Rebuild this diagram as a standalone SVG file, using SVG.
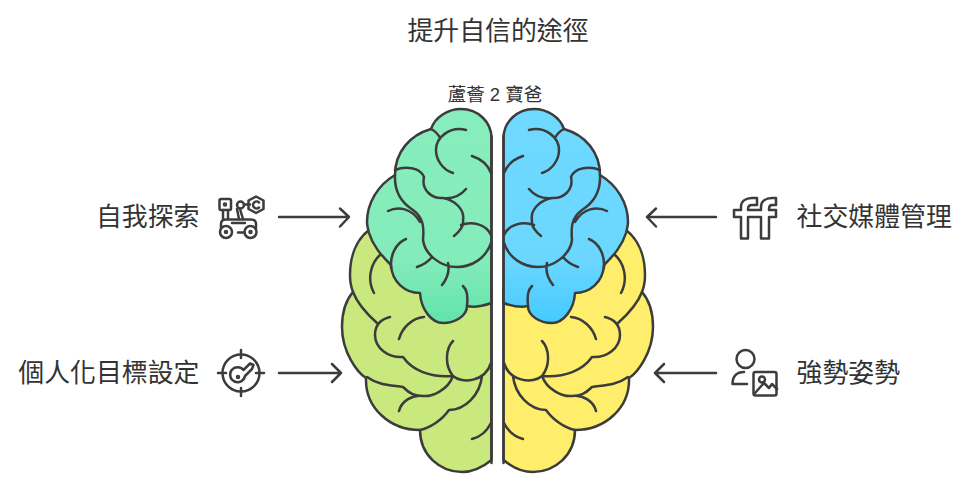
<svg xmlns="http://www.w3.org/2000/svg" xmlns:xlink="http://www.w3.org/1999/xlink" width="980" height="489" viewBox="0 0 980 489">
<style>
text{font-family:"Liberation Sans","Noto Sans CJK TC",sans-serif;fill:#333;font-size:25.900px}
.c{text-anchor:middle}.e{text-anchor:end}
.l,.i,.i *{fill:none;stroke:#3c3c3c;stroke-width:2.5;stroke-linecap:round;stroke-linejoin:round}
.o{stroke:#3c3c3c;stroke-width:2.5;stroke-linejoin:round}
</style>
<defs>
<linearGradient id="gg" x1="0" y1="0" x2="0" y2="1"><stop offset="0" stop-color="#87EDBC"/><stop offset=".7" stop-color="#84ECBA"/><stop offset="1" stop-color="#62E3AC"/></linearGradient>
<linearGradient id="gb" x1="0" y1="0" x2="0" y2="1"><stop offset="0" stop-color="#6FD9FF"/><stop offset=".7" stop-color="#6BD7FF"/><stop offset="1" stop-color="#45CAFF"/></linearGradient>
<path id="low" d="M369,230C356,240 350,257 350,275C350,281 351,287 353,292C346,300 342,313 342,327C342,353 358,373 366,378C365,408 390,430 420,430C420,455 440,472 462,472C473,472 483,467 491.5,460V290L400,230Z"/>
<path id="up" d="M491.5,303C483,306 475,308 467,306C467,316 455,323 443,323C432,323 421,310 420,293C405,293 392,282 391,265C381,255 373,246 369,233C368,229 367,226 367,222C367,203 378,185 395,175C395,152 410,135 431,129C435,117 448,109 461,109C478,109 491.5,122 491.5,138Z"/>
<path id="lowl" d="M380,255C372,262 366,278 374,293M353,292C358,305 368,315 377,323M390,317C378,320 375,327 375,335C375,348 388,358 403,357C412,370 430,378 453,376M424,317C412,318 402,328 399,339M453,341C446,348 444,365 453,376C462,384 485,382 491,363M453,376C448,390 432,397 423,396C415,396 410,394 403,387C390,385 378,385 367,377M423,396C412,394 401,402 399,411M482,376C480,395 465,410 449,410C442,420 430,428 420,430M472,439C480,437 487,431 491,423"/>
<path id="upl" d="M466,130C450,126 436,137 436,150C436,160 443,170 453,173M431,129C435,131 438,134 440,138M472,156C481,159 488,165 491,173M395,170C405,166 420,167 424,177C421,190 432,199 443,198C453,199 461,195 466,189M443,198C455,200 465,210 463,220C464,226 459,232 454,236M461,225C472,221 486,224 491,235M395,175C394,195 405,205 413,210C424,218 424,228 423,240C425,255 441,267 457,267C472,267 486,258 491,243M388,211C398,206 412,208 420,222M406,239C396,243 390,255 391,268M417,267C423,265 428,262 432,257M448,263C450,272 446,280 442,285M463,286C467,290 468,295 467,306"/>
</defs>
<text class="c" x="498" y="40">提升自信的途徑</text>
<text class="c" x="495" y="101" style="font-size:18.500px">蘆薈 2 寶爸</text>
<g id="brain-left">
<use href="#low" fill="#C9E97F" class="o"/><use href="#lowl" class="l"/>
<use href="#up" fill="url(#gg)" class="o"/><use href="#upl" class="l"/>
<path class="l" d="M491.5,136V463"/>
</g>
<g id="brain-right" transform="matrix(-1 0 0 1 995 0)">
<use href="#low" fill="#FFEE6B" class="o"/><use href="#lowl" class="l"/>
<use href="#up" fill="url(#gb)" class="o"/><use href="#upl" class="l"/>
<path class="l" d="M491.5,136V463"/>
</g>
<g id="connectors">
<path class="l" d="M279,217H348M340,208.500L349,217L340,226.500"/>
<path class="l" d="M279,373H341M332,364L341,373L332,382"/>
<path class="l" d="M716,217H647M656,208.500L647,217L656,226.500"/>
<path class="l" d="M716,373H655M664,364L655,373L664,382"/>
</g>
<g id="n1"><text class="e" x="199.500" y="226">自我探索</text>
<g class="i"><rect x="219.500" y="199" width="11.500" height="11" rx="1.500"/><circle cx="225" cy="204.500" r="1"/><path d="M223,210V219M228,210V219M240,209L243,219M237,209L239,219M244,204.500H250"/><circle cx="240.500" cy="205" r="3.500"/><path d="M256,196.500L263.500,200.500V209L256,213L248.500,209V200.500Z"/><path d="M259,202.500A3.500,3.500 0 1 0 259,207.500"/><path d="M221,228V224Q221,219.500 226,219.500H251Q256,219.500 256,224V228M232,223H245M238,232.500H243"/><circle cx="226" cy="232" r="6"/><circle cx="250.500" cy="232" r="6"/><circle cx="226" cy="232" r="1"/><circle cx="250.500" cy="232" r="1"/></g></g>
<g id="n2"><text class="e" x="199.500" y="382">個人化目標設定</text>
<g class="i"><circle cx="241" cy="373" r="18.500"/><path d="M241,350V358M241,388V396M218,373H226M256,373H264"/><path d="M243.500,370L250,363.500L253.500,365L252,369L245,376A7.500,7.500 0 1 1 243.500,370Z"/><circle cx="238" cy="377" r="1"/></g></g>
<g id="n3"><text x="796.500" y="226">社交媒體管理</text>
<g class="i"><path d="M741,238.500V217H734V210H741V207C741,201 746,198 752,198H757V205H752C749,205 748,206.500 748,209V210H761V207C761,201 766,198 772,198H776V205H772C770,205 769,206.500 769,209V210H776V217H769V238.500H761V217H748V238.500Z"/></g></g>
<g id="n4"><text x="796.500" y="382">強勢姿勢</text>
<g class="i"><circle cx="745.500" cy="359" r="9"/><path d="M747,384H732.500C732.500,376 737,372 744,372"/><rect x="753.500" y="372" width="23" height="23.500" rx="2"/><circle cx="762" cy="379.500" r="3"/><path d="M755,393L764,383L769,388L772,384L777,389"/></g></g>
</svg>
